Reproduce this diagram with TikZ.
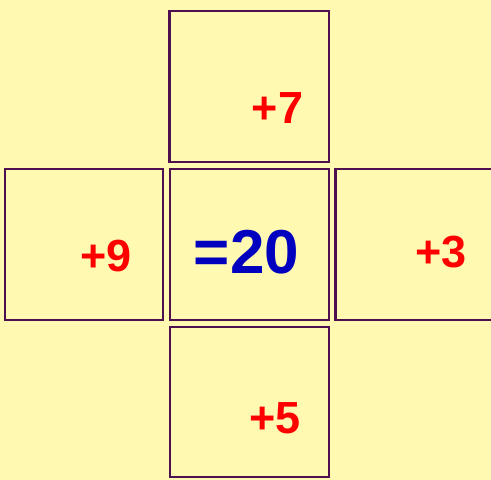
\documentclass[tikz,border=0pt]{standalone}
\usepackage{fontspec}
\setmainfont{Liberation Sans}
\definecolor{paper}{RGB}{255,249,178}
\definecolor{edge}{RGB}{78,16,78}
\definecolor{numred}{RGB}{255,0,0}
\definecolor{sumblue}{RGB}{0,0,190}
\tikzset{
    cell/.style={draw=edge, line width=2.4pt, fill=paper, inner sep=0pt},
    addnum/.style={anchor=base, text=numred, font=\bfseries\fontsize{45}{45}\selectfont, inner sep=0pt},
    sumnum/.style={anchor=base, text=sumblue, font=\bfseries\fontsize{62}{62}\selectfont, inner sep=0pt}
}
\begin{document}
\begin{tikzpicture}[x=1pt, y=-1pt]
    \fill[paper] (0,0) rectangle (491,480);
    \useasboundingbox (0,0) rectangle (491,480);

    \node[cell, minimum width=159.5pt, minimum height=151pt] (top) at (249.25,86.5) {};
    \node[cell, minimum width=158pt, minimum height=151pt] (left) at (84,244.5) {};
    \node[cell, minimum width=159pt, minimum height=151pt] (mid) at (249.5,244.5) {};
    \node[cell, minimum width=160pt, minimum height=151pt] (right) at (415.5,244.5) {};
    \node[cell, minimum width=159pt, minimum height=150pt] (bottom) at (249.5,402) {};

    \node[addnum] (topnum) at (277.5,123) {+7};
    \node[addnum] (leftnum) at (106,271) {+9};
    \node[sumnum] (midnum) at (246.5,273) {=20};
    \node[addnum] (rightnum) at (441,267) {+3};
    \node[addnum] (bottomnum) at (275,433) {+5};
\end{tikzpicture}
\end{document}
